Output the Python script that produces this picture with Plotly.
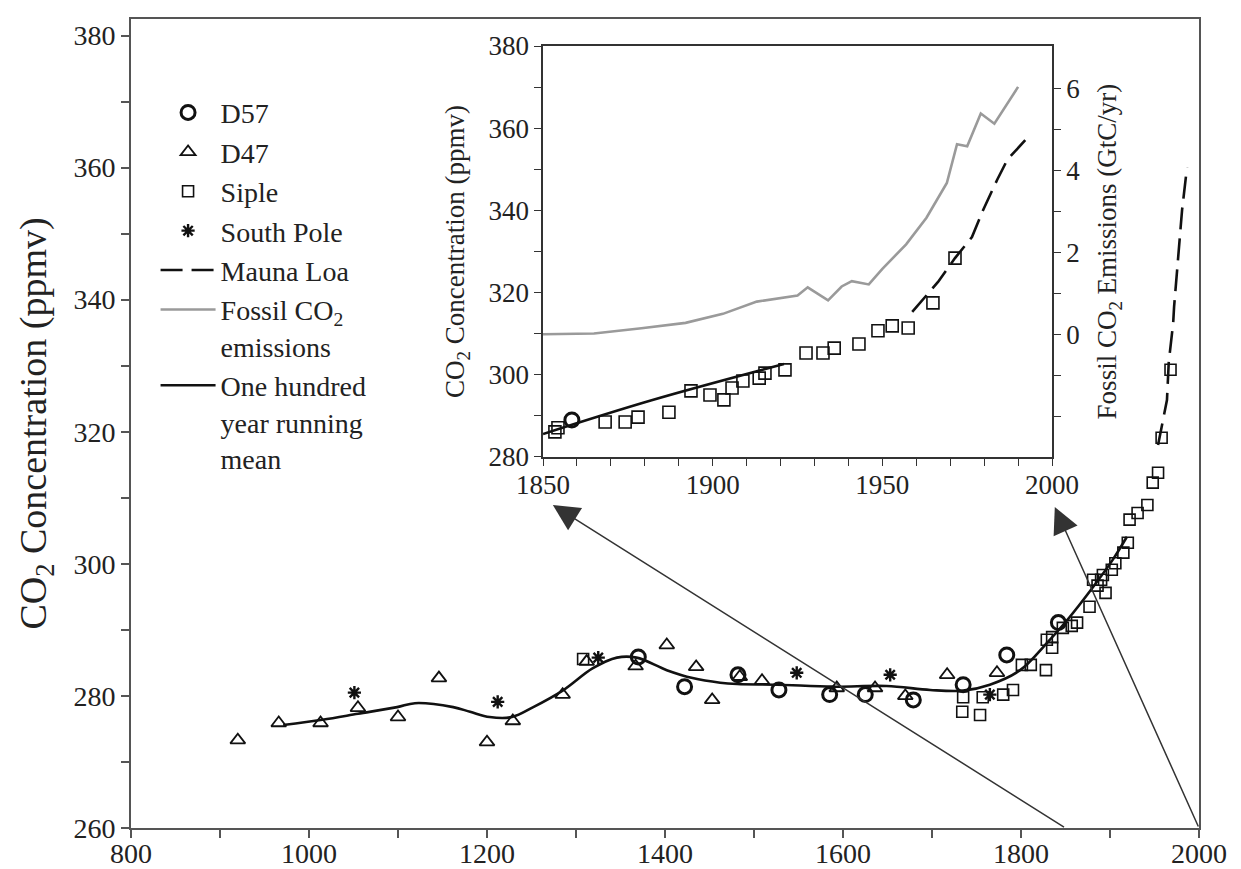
import plotly.graph_objects as go

# ---------------- main panel data (year, CO2 ppmv) ----------------
d57_year = [1370, 1422, 1482, 1528, 1585, 1625, 1679, 1735, 1784, 1842]
d57_co2 = [285.9, 281.4, 283.2, 280.9, 280.2, 280.2, 279.4, 281.7, 286.2, 291.1]

d47_year = [920, 966, 1013, 1055, 1100, 1146, 1200, 1229, 1285, 1312, 1367,
            1402, 1435, 1453, 1484, 1509, 1593, 1636, 1670, 1717, 1773]
d47_co2 = [273.3, 275.9, 275.9, 278.2, 276.8, 282.7, 273.0, 276.2, 280.2, 285.2, 284.5,
           287.7, 284.4, 279.4, 282.9, 282.3, 281.2, 281.2, 280.0, 283.2, 283.5]

siple_year = [1308, 1735, 1734, 1757, 1754, 1780, 1791, 1801, 1811, 1828, 1829,
              1835, 1835, 1847, 1857, 1863, 1877, 1881, 1890, 1886, 1895, 1892,
              1902, 1906, 1915, 1920, 1922, 1931, 1942, 1948, 1954, 1958, 1968]
siple_co2 = [285.6, 279.8, 277.6, 279.8, 277.1, 280.2, 280.9, 284.7, 284.7, 283.9, 288.5,
             287.3, 288.9, 290.3, 290.6, 291.1, 293.5, 297.6, 297.6, 296.7, 295.6, 298.3,
             299.1, 300.1, 301.7, 303.2, 306.7, 307.7, 308.9, 312.3, 313.8, 319.1, 329.4]

southpole_year = [1051, 1212, 1325, 1548, 1653, 1765]
southpole_co2 = [280.5, 279.1, 285.8, 283.5, 283.2, 280.2]

maunaloa_year = [1954, 1964, 1966, 1971, 1972, 1976, 1981, 1986.5]
maunaloa_co2 = [318.0, 324.8, 330.5, 336.5, 338.9, 345.0, 353.6, 360.0]

mean_year = [971, 1015, 1055, 1099, 1119, 1162, 1181, 1203, 1228, 1252, 1285, 1319,
             1346, 1368, 1402, 1431, 1462, 1481, 1526, 1589, 1649, 1698, 1735, 1765,
             1799, 1829, 1852, 1881, 1903, 1919]
mean_co2 = [275.6, 276.4, 277.3, 278.3, 278.9, 278.3, 277.6, 276.8, 276.8, 278.3, 280.8, 284.2,
            285.8, 285.8, 283.9, 282.7, 282.0, 281.8, 281.7, 281.4, 281.5, 280.9, 280.8, 281.7,
            283.9, 288.0, 291.5, 296.5, 300.6, 304.1]

# ---------------- inset data (1850-2000) ----------------
inset_siple_year = [1853.5, 1854.4, 1868.3, 1874.2, 1878.0, 1887.1, 1893.6, 1899.2, 1903.3,
                    1905.7, 1908.9, 1913.7, 1915.4, 1921.3, 1927.5, 1932.5, 1935.8, 1943.1,
                    1948.7, 1952.9, 1957.6, 1964.9, 1971.4]
inset_siple_co2 = [286.1, 287.1, 288.5, 288.5, 289.7, 290.9, 296.1, 295.1, 293.9,
                   296.8, 298.5, 299.2, 300.4, 301.2, 305.3, 305.3, 306.5, 307.5,
                   310.7, 311.9, 311.4, 317.5, 328.4]
inset_d57_year = [1858.5]
inset_d57_co2 = [289.0]
inset_mean_year = [1850, 1882, 1921]
inset_mean_co2 = [285.6, 293.8, 302.6]
inset_maunaloa_year = [1958.8, 1966.4, 1971.4, 1976.4, 1979.7, 1983.8, 1986.8, 1992.1]
inset_maunaloa_co2 = [315.3, 322.6, 328.4, 333.5, 340.1, 347.4, 352.3, 357.1]
fossil_year = [1850, 1865, 1879, 1892, 1903, 1913, 1925, 1928, 1934, 1938, 1941, 1946,
               1950, 1957, 1963, 1969, 1972, 1975, 1979, 1983, 1990]
fossil_gtc = [0.0, 0.02, 0.15, 0.28, 0.5, 0.8, 0.95, 1.15, 0.83, 1.17, 1.3, 1.22,
              1.6, 2.2, 2.85, 3.7, 4.65, 4.6, 5.4, 5.15, 6.05]

# ---------------- ticks ----------------
main_x_ticks = [800, 1000, 1200, 1400, 1600, 1800, 2000]
main_x_minor = [900, 1100, 1300, 1500, 1700, 1900]
main_y_ticks = [260, 280, 300, 320, 340, 360, 380]
main_y_minor = [270, 290, 310, 330, 350, 370]
inset_x_ticks = [1850, 1900, 1950, 2000]
inset_x_minor = [1860, 1870, 1880, 1890, 1910, 1920, 1930, 1940, 1960, 1970, 1980, 1990]
inset_y_ticks = [280, 300, 320, 340, 360, 380]
inset_y_minor = [290, 310, 330, 350, 370]
inset_y2_ticks = [0, 2, 4, 6]
inset_y2_minor = [-2, -1, 1, 3, 5]

# arrows: tail on main x-axis -> head near inset corners (main-axis coordinates)
arrow_tail_year = [1850, 2000]
arrow_tail_co2 = [260, 260]
arrow_head_year = [1274, 1838]
arrow_head_co2 = [308.9, 308.6]

FONT = "Liberation Serif"
TICKFONT = "Times New Roman"
INK = "#111111"
TXT = "#222222"
DASH = "22px,9px"

fig = go.Figure()

# main panel traces
fig.add_trace(go.Scatter(x=d57_year, y=d57_co2, mode="markers", name="D57",
                         marker=dict(symbol="circle-open", size=14, color=INK, line=dict(width=3)),
                         legendrank=1))
fig.add_trace(go.Scatter(x=d47_year, y=d47_co2, mode="markers", name="D47",
                         marker=dict(symbol="triangle-up-open", size=13, color=INK, line=dict(width=1.8)),
                         legendrank=2))
fig.add_trace(go.Scatter(x=siple_year, y=siple_co2, mode="markers", name="Siple",
                         marker=dict(symbol="square-open", size=11, color=INK, line=dict(width=1.6)),
                         legendrank=3))
fig.add_trace(go.Scatter(x=southpole_year, y=southpole_co2, mode="markers", name="South Pole",
                         marker=dict(symbol="asterisk-open", size=11, color=INK, line=dict(width=2.4)),
                         legendrank=4))
fig.add_trace(go.Scatter(x=maunaloa_year, y=maunaloa_co2, mode="lines", name="Mauna Loa",
                         line=dict(color=INK, width=2.6, dash=DASH), legendrank=5))
fig.add_trace(go.Scatter(x=mean_year, y=mean_co2, mode="lines",
                         name="One hundred<br>year running<br>mean",
                         line=dict(color=INK, width=2.6, shape="spline", smoothing=1.0),
                         legendrank=7))

# inset traces
fig.add_trace(go.Scatter(x=fossil_year, y=fossil_gtc, mode="lines", xaxis="x2", yaxis="y3",
                         name="Fossil CO<sub>2</sub><br>emissions",
                         line=dict(color="#9a9a9a", width=2.6), legendrank=6))
fig.add_trace(go.Scatter(x=inset_mean_year, y=inset_mean_co2, mode="lines", xaxis="x2", yaxis="y2",
                         showlegend=False, line=dict(color=INK, width=2.6, shape="spline")))
fig.add_trace(go.Scatter(x=inset_maunaloa_year, y=inset_maunaloa_co2, mode="lines", xaxis="x2", yaxis="y2",
                         showlegend=False, line=dict(color=INK, width=2.6, dash=DASH)))
fig.add_trace(go.Scatter(x=inset_siple_year, y=inset_siple_co2, mode="markers", xaxis="x2", yaxis="y2",
                         showlegend=False,
                         marker=dict(symbol="square-open", size=12, color=INK, line=dict(width=1.6))))
fig.add_trace(go.Scatter(x=inset_d57_year, y=inset_d57_co2, mode="markers", xaxis="x2", yaxis="y2",
                         showlegend=False,
                         marker=dict(symbol="circle-open", size=14, color=INK, line=dict(width=3))))


def axis(tickvals, minorvals, ticklen, color, lw, fsize, tw, fam=TICKFONT, **kw):
    d = dict(showgrid=False, zeroline=False, showline=True, ticks="outside", automargin=False,
             tickmode="array", tickvals=tickvals, ticktext=[str(v) for v in tickvals],
             ticklen=ticklen, tickcolor=color, tickwidth=tw,
             linecolor=color, linewidth=lw,
             tickfont=dict(family=fam, size=fsize, color=TXT),
             minor=dict(tickmode="array", tickvals=minorvals, ticks="outside", ticklen=ticklen,
                        tickwidth=tw, tickcolor=color, showgrid=False))
    d.update(kw)
    return d


annotations = []
for hx, hy, tx, ty in zip(arrow_head_year, arrow_head_co2, arrow_tail_year, arrow_tail_co2):
    annotations.append(dict(x=hx, y=hy, xref="x", yref="y", ax=tx, ay=ty, axref="x", ayref="y",
                            text="", showarrow=True, arrowhead=2, arrowsize=3.5, arrowwidth=1.5,
                            arrowcolor="#333"))

fig.update_layout(
    template="none",
    width=1241, height=869,
    margin=dict(l=131, r=42, t=19, b=41, autoexpand=False),
    paper_bgcolor="white", plot_bgcolor="white",
    font=dict(family=FONT, color=TXT),
    showlegend=True,
    xaxis=axis(main_x_ticks, main_x_minor, 8, "#555", 2, 28, 1.5,
               domain=[0, 1], range=[800, 2000], mirror=True, ticklabelstandoff=-9),
    yaxis=axis(main_y_ticks, main_y_minor, 8, "#555", 2, 28, 1.5,
               domain=[0, 1], range=[260, 382.5], mirror=True,
               title=dict(text="CO<sub>2</sub> Concentration (ppmv)", standoff=15,
                          font=dict(family=FONT, size=38, color=TXT))),
    xaxis2=axis(inset_x_ticks, inset_x_minor, 7, "#333", 1.5, 27, 1.3, fam=FONT,
                domain=[0.3858, 0.8624], anchor="y2", range=[1850, 2000], mirror=True,
                ticklabelstandoff=-4),
    yaxis2=axis(inset_y_ticks, inset_y_minor, 7, "#333", 1.5, 27, 1.3, fam=FONT,
                domain=[0.4586, 0.9666], anchor="x2", range=[280, 380],
                title=dict(text="CO<sub>2</sub> Concentration (ppmv)", standoff=16,
                           font=dict(family=FONT, size=27, color=TXT))),
    yaxis3=axis(inset_y2_ticks, inset_y2_minor, 7, "#333", 1.5, 27, 1.3, fam=FONT,
                overlaying="y2", anchor="x2", side="right", range=[-3, 7.05],
                title=dict(text="Fossil CO<sub>2</sub> Emissions (GtC/yr)", standoff=18,
                           font=dict(family=FONT, size=27, color=TXT))),
    legend=dict(x=0.023, y=0.915, xanchor="left", yanchor="top", bgcolor="rgba(0,0,0,0)",
                borderwidth=0, font=dict(family=TICKFONT, size=28, color=TXT), itemwidth=55,
                valign="top", tracegroupgap=0),
    annotations=annotations,
)

fig.write_html("out.html")
